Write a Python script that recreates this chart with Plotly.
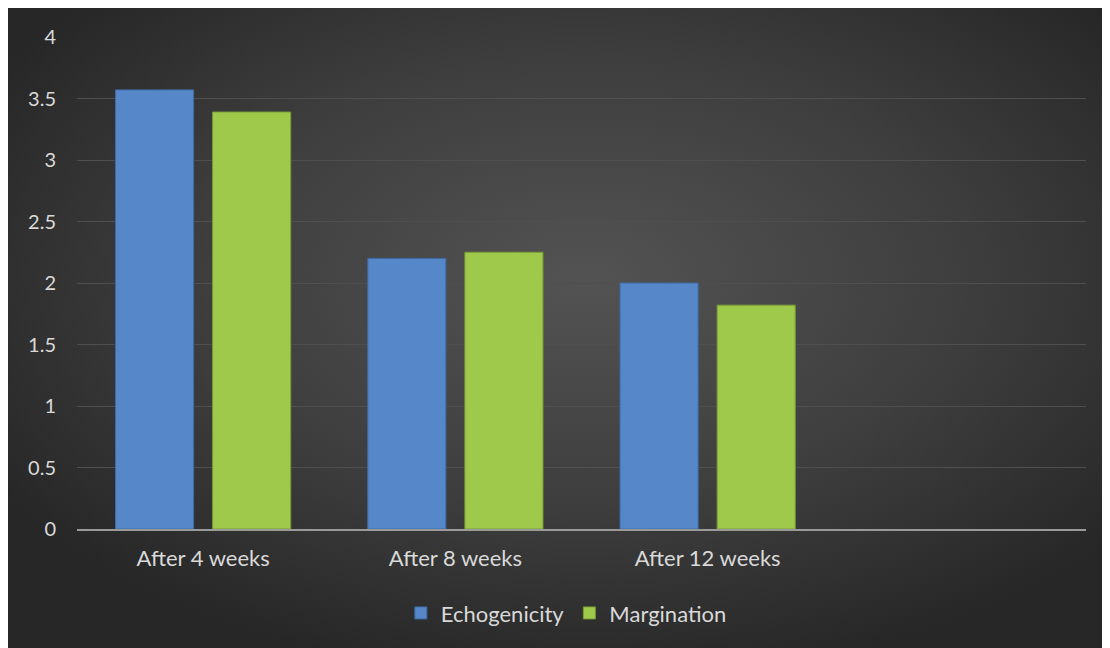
import plotly.graph_objects as go
import urllib.parse

categories = ["After 4 weeks", "After 8 weeks", "After 12 weeks", " "]
echogenicity = [3.57, 2.2, 2.0, None]
margination = [3.39, 2.25, 1.82, None]
y_ticks = [0, 0.5, 1, 1.5, 2, 2.5, 3, 3.5, 4]
y_tick_labels = ["0", "0.5", "1", "1.5", "2", "2.5", "3", "3.5", "4"]

W, H = 1110, 648
L, R, T, B = 69, 32, 29, 127
pw, ph = W - L - R, H - T - B

svg = ('<svg xmlns="http://www.w3.org/2000/svg" width="1110" height="648" viewBox="0 0 1110 648" preserveAspectRatio="none">'
       '<defs><radialGradient id="g" cx="52%" cy="42%" r="62%" fx="52%" fy="42%">'
       '<stop offset="0%" stop-color="#535353"/><stop offset="55%" stop-color="#3e3e3e"/>'
       '<stop offset="100%" stop-color="#272727"/></radialGradient></defs>'
       '<rect width="1110" height="648" fill="url(#g)"/></svg>')
src = "data:image/svg+xml;charset=utf-8," + urllib.parse.quote(svg)

fig = go.Figure()
fig.add_trace(go.Bar(name="Echogenicity", x=categories, y=echogenicity,
                     marker=dict(color="#5587c9", line=dict(color="#3f6aa3", width=1))))
fig.add_trace(go.Bar(name="Margination", x=categories, y=margination,
                     marker=dict(color="#9fc94b", line=dict(color="#7a9c36", width=1))))

fig.update_layout(
    width=W, height=H,
    margin=dict(l=L, r=R, t=T, b=B, pad=0),
    paper_bgcolor="#333333",
    plot_bgcolor="rgba(0,0,0,0)",
    barmode="group", bargap=0.23, bargroupgap=0.196,
    font=dict(family="Lato, Open Sans, sans-serif", size=20, color="#d9d9d9"),
    images=[dict(source=src, xref="paper", yref="paper",
                 x=-L / pw, y=(H - B) / ph,
                 sizex=W / pw, sizey=H / ph,
                 xanchor="left", yanchor="top", sizing="stretch", layer="below")],
    xaxis=dict(range=[-0.5, 3.5], showgrid=False, showline=True, linecolor="#9a9a9a",
               linewidth=2, ticks="", ticklabelstandoff=9,
               tickfont=dict(size=22, color="#d9d9d9"),
               categoryorder="array", categoryarray=categories),
    yaxis=dict(range=[0, 4], tickvals=y_ticks, ticktext=y_tick_labels,
               showgrid=True, gridcolor="#4f4f4f", gridwidth=1, zeroline=False,
               showline=False, ticks="", ticklabelstandoff=20,
               tickfont=dict(size=20, color="#d9d9d9")),
    legend=dict(orientation="h", x=0.485, xanchor="center", y=-0.171, yanchor="middle",
                font=dict(size=22, color="#d9d9d9"), bgcolor="rgba(0,0,0,0)",
                itemwidth=30, traceorder="normal"),
)

fig.write_html("out.html")
